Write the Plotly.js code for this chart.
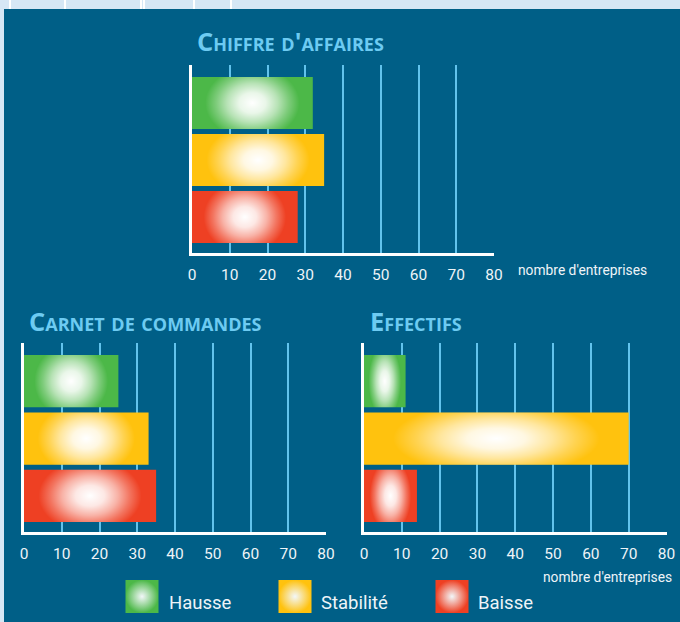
<!DOCTYPE html>
<html>
<head>
<meta charset="utf-8">
<script src="https://cdn.plot.ly/plotly-3.0.1.min.js"></script>
<style>html,body{margin:0;padding:0;background:#d6e7f5;}#chart{width:680px;height:622px;}</style>
</head>
<body>
<div id="chart"></div>
<script>
// ---- data ----
const categories = ['Hausse', 'Stabilité', 'Baisse'];
const chiffreAffaires = [32, 35, 28];
const carnetCommandes = [25, 33, 35];
const effectifs = [11, 70, 14];
const xTickValues = [0, 10, 20, 30, 40, 50, 60, 70, 80];
const panelTitles = ["Chiffre d'affaires", 'Carnet de commandes', 'Effectifs'];
const axisLabel = "nombre d'entreprises";

// ---- styles ----
const W = 680, H = 622;
const catColors = ['#4cb848', '#ffc20e', '#ee4023'];
const teal = '#005f87';
const gridBlue = '#62c3ec';
const titleBlue = '#6dcbf2';
const textWhite = '#eef4f8';
const halfBar = 0.456;
const glowReach = 1.8;   // vertical extent of the glow ellipse relative to half bar height

const panels = [
  {values: chiffreAffaires, xa: 'x', ya: 'y'},
  {values: carnetCommandes, xa: 'x2', ya: 'y2'},
  {values: effectifs, xa: 'x3', ya: 'y3'}
];

const glowScale = [
  [0, 'rgba(255,255,255,1)'],
  [0.22, 'rgba(255,255,255,0.88)'],
  [0.42, 'rgba(255,255,255,0.6)'],
  [0.6, 'rgba(255,255,255,0.28)'],
  [0.78, 'rgba(255,255,255,0)'],
  [1, 'rgba(255,255,255,0)']
];

const pos = categories.map((c, i) => i);
const traces = [];
panels.forEach((p, k) => {
  traces.push({
    type: 'bar', orientation: 'h',
    x: p.values, y: pos, name: panelTitles[k],
    text: categories, hoverinfo: 'x+text', textposition: 'none',
    marker: {color: catColors, line: {width: 0}},
    xaxis: p.xa, yaxis: p.ya, showlegend: false
  });
  // radial glow overlay on each bar, built from the same values
  p.values.forEach((v, i) => {
    const yt = i - halfBar, yb = i + halfBar, xc = v / 2, e = halfBar * glowReach;
    traces.push({
      type: 'scatter', mode: 'lines',
      x: [0, xc, xc, xc, v, v, xc, xc, xc, 0, 0],
      y: [yt, yt, i - e, yt, yt, yb, yb, i + e, yb, yb, yt],
      fill: 'toself', line: {width: 0, color: 'rgba(0,0,0,0)', simplify: false},
      fillcolor: 'rgba(0,0,0,0)',
      fillgradient: {type: 'radial', colorscale: glowScale},
      hoverinfo: 'skip', showlegend: false, cliponaxis: true,
      xaxis: p.xa, yaxis: p.ya
    });
  });
});

// legend swatches (gradient squares)
traces.push({
  type: 'scatter', mode: 'markers',
  x: [142, 295, 452], y: [596.5, 596.5, 596.5],
  text: categories, hoverinfo: 'text',
  marker: {symbol: 'square', size: 33, color: catColors, line: {width: 0},
           gradient: {type: 'radial', color: 'rgba(255,255,255,0.95)'}},
  xaxis: 'x4', yaxis: 'y4', showlegend: false
});

function px(x) { return x / W; }
function py(y) { return 1 - y / H; }

function xAxis(d0, d1, anchor) {
  return {
    domain: [px(d0), px(d1)], anchor: anchor, range: [0, 80],
    tickvals: xTickValues, ticktext: xTickValues.map(String),
    showgrid: true, gridcolor: gridBlue, gridwidth: 1.5,
    showline: true, linecolor: '#ffffff', linewidth: 3,
    zeroline: false, ticks: '', ticklabelstandoff: 5,
    tickfont: {family: 'Roboto, sans-serif', size: 15.5, color: textWhite},
    fixedrange: true
  };
}
function yAxis(t, b, anchor) {
  return {
    domain: [py(b), py(t)], anchor: anchor,
    range: [2 + (36 / 57), -(38 / 57)],
    showgrid: false, zeroline: false, showticklabels: false, ticks: '',
    showline: true, linecolor: '#ffffff', linewidth: 2.5, fixedrange: true
  };
}

const shapes = [
  {type: 'rect', xref: 'paper', yref: 'paper', x0: px(4), x1: 1, y0: 0, y1: py(9),
   fillcolor: teal, line: {width: 0}, layer: 'below'}
];
[10, 65, 141, 144, 194, 231].forEach(x => shapes.push({
  type: 'line', xref: 'paper', yref: 'paper', x0: px(x), x1: px(x), y0: py(9), y1: 1,
  line: {color: '#ffffff', width: 2}, layer: 'below'
}));

const titleFont = {family: '"Open Sans", sans-serif', size: 25.5, color: titleBlue, weight: 700, variant: 'small-caps'};
const legendFont = {family: 'Roboto, sans-serif', size: 18.5, color: textWhite};
const labelFont = {family: 'Roboto, sans-serif', size: 13.8, color: textWhite};

const annotations = [
  {text: panelTitles[0], xref: 'paper', yref: 'paper', x: px(195), y: py(41), xanchor: 'left', yanchor: 'middle', showarrow: false, font: titleFont},
  {text: panelTitles[1], xref: 'paper', yref: 'paper', x: px(27), y: py(321), xanchor: 'left', yanchor: 'middle', showarrow: false, font: titleFont},
  {text: panelTitles[2], xref: 'paper', yref: 'paper', x: px(368), y: py(321), xanchor: 'left', yanchor: 'middle', showarrow: false, font: titleFont},
  {text: axisLabel, xref: 'paper', yref: 'paper', x: px(516), y: py(270), xanchor: 'left', yanchor: 'middle', showarrow: false, font: labelFont},
  {text: axisLabel, xref: 'paper', yref: 'paper', x: px(674), y: py(577), xanchor: 'right', yanchor: 'middle', showarrow: false, font: labelFont},
  {text: categories[0], xref: 'paper', yref: 'paper', x: px(167), y: py(603), xanchor: 'left', yanchor: 'middle', showarrow: false, font: legendFont},
  {text: categories[1], xref: 'paper', yref: 'paper', x: px(319), y: py(603), xanchor: 'left', yanchor: 'middle', showarrow: false, font: legendFont},
  {text: categories[2], xref: 'paper', yref: 'paper', x: px(476), y: py(603), xanchor: 'left', yanchor: 'middle', showarrow: false, font: legendFont}
];

const layout = {
  width: W, height: H,
  margin: {l: 0, r: 0, t: 0, b: 0, pad: 0},
  paper_bgcolor: '#d6e7f5', plot_bgcolor: 'rgba(0,0,0,0)',
  bargap: 0.088, barmode: 'group',
  showlegend: false,
  xaxis: xAxis(192, 494, 'y'),
  yaxis: yAxis(65, 253, 'x'),
  xaxis2: xAxis(24, 326, 'y2'),
  yaxis2: yAxis(343, 532, 'x2'),
  xaxis3: xAxis(364, 666.5, 'y3'),
  yaxis3: yAxis(343, 532, 'x3'),
  xaxis4: {domain: [0, 1], range: [0, W], visible: false, fixedrange: true, anchor: 'y4'},
  yaxis4: {domain: [0, 1], range: [H, 0], visible: false, fixedrange: true, anchor: 'x4'},
  shapes: shapes,
  annotations: annotations
};

Plotly.newPlot('chart', traces, layout, {displayModeBar: false});
</script>
</body>
</html>
